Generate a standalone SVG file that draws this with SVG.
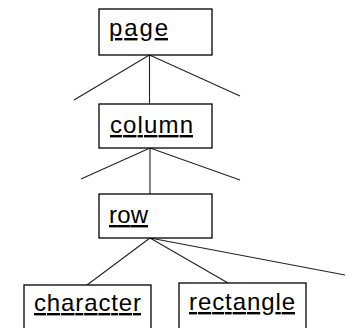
<svg xmlns="http://www.w3.org/2000/svg" width="347" height="328" viewBox="0 0 347 328">
<style>
.box{fill:#fff;stroke:#000;stroke-width:1.3}
.lbl{font-family:"Liberation Sans",Arial,sans-serif;font-size:24px;fill:#000;text-decoration:underline}
.edge{stroke:#222;stroke-width:1.1;fill:none}
</style>
<rect width="347" height="328" fill="#fff"/>
<g id="connectors">
<line class="edge" x1="149.5" y1="55" x2="74" y2="100"/>
<line class="edge" x1="149.5" y1="55" x2="240" y2="96"/>
<line class="edge" x1="149.5" y1="55" x2="149.5" y2="104"/>
<line class="edge" x1="150" y1="148" x2="81" y2="179"/>
<line class="edge" x1="150" y1="148" x2="240" y2="180"/>
<line class="edge" x1="150" y1="148" x2="150" y2="194"/>
<line class="edge" x1="150" y1="238" x2="87" y2="285"/>
<line class="edge" x1="150" y1="238" x2="228" y2="283"/>
<line class="edge" x1="150" y1="238" x2="345" y2="275"/>
</g>
<g id="page">
<rect class="box" x="99" y="9" width="113" height="46"/>
<text class="lbl" x="109" y="36" textLength="59" lengthAdjust="spacing">page</text>
</g>
<g id="column">
<rect class="box" x="99" y="104" width="113" height="44"/>
<text class="lbl" x="110" y="133" textLength="83" lengthAdjust="spacing">column</text>
</g>
<g id="row">
<rect class="box" x="99" y="194" width="113" height="44"/>
<text class="lbl" x="109" y="223" textLength="39" lengthAdjust="spacing">row</text>
</g>
<g id="character">
<rect class="box" x="24" y="285" width="127" height="50"/>
<text class="lbl" x="34" y="311" textLength="107" lengthAdjust="spacing">character</text>
</g>
<g id="rectangle">
<rect class="box" x="179" y="283" width="127" height="52"/>
<text class="lbl" x="189" y="310" textLength="106" lengthAdjust="spacing">rectangle</text>
</g>
</svg>
